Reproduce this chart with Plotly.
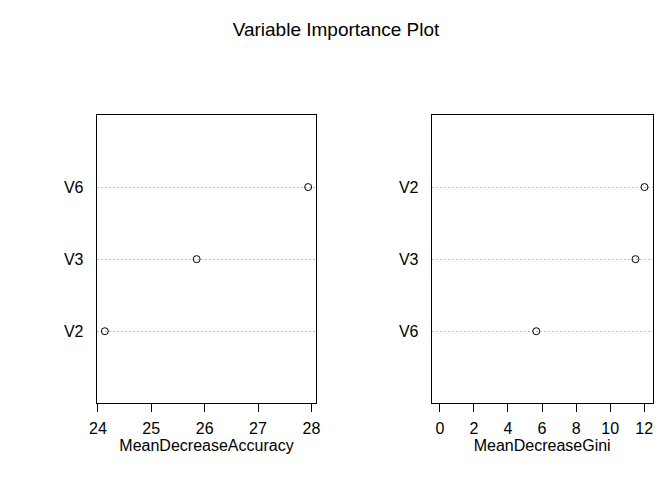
import plotly.graph_objects as go

# Data
acc_vars = ["V2", "V3", "V6"]
acc_vals = [24.13, 25.85, 27.94]
gini_vars = ["V6", "V3", "V2"]
gini_vals = [5.66, 11.49, 12.02]

acc_ticks = [24, 25, 26, 27, 28]
gini_ticks = [0, 2, 4, 6, 8, 10, 12]

title_text = "Variable Importance Plot"
acc_label = "MeanDecreaseAccuracy"
gini_label = "MeanDecreaseGini"

FONT = "Liberation Sans, Arial, sans-serif"


def r_range(lo, hi):
    pad = (hi - lo) * 0.04
    return [lo - pad, hi + pad]


fig = go.Figure()

fig.add_trace(go.Scatter(
    x=acc_vals, y=acc_vars, mode="markers",
    marker=dict(symbol="circle-open", size=7, color="black", line=dict(width=1, color="black")),
    xaxis="x", yaxis="y", showlegend=False, cliponaxis=False,
))
fig.add_trace(go.Scatter(
    x=gini_vals, y=gini_vars, mode="markers",
    marker=dict(symbol="circle-open", size=7, color="black", line=dict(width=1, color="black")),
    xaxis="x2", yaxis="y2", showlegend=False, cliponaxis=False,
))

xcommon = dict(
    showline=True, linecolor="black", linewidth=1, mirror=True,
    ticks="outside", ticklen=8, tickwidth=1, tickcolor="black",
    showgrid=False, zeroline=False,
    tickfont=dict(family=FONT, size=16, color="black"),
    title_font=dict(family=FONT, size=16, color="black"),
    title_standoff=4, ticklabelstandoff=2,
)
ycommon = dict(
    showline=True, linecolor="black", linewidth=1, mirror=True,
    ticks="", showgrid=True, gridcolor="#BEBEBE", griddash="2px,2px", gridwidth=1,
    zeroline=False, type="category", range=[-1, 3],
    tickfont=dict(family=FONT, size=16, color="black"),
    ticklabelstandoff=9,
)

fig.update_layout(
    width=672, height=480,
    margin=dict(l=0, r=0, t=0, b=0, autoexpand=False),
    paper_bgcolor="white", plot_bgcolor="white",
    font=dict(family=FONT, size=16, color="black"),
    xaxis=dict(domain=[96.7 / 672, 316.3 / 672], anchor="y",
               range=r_range(min(acc_vals), max(acc_vals)),
               tickvals=acc_ticks, title_text=acc_label, **xcommon),
    yaxis=dict(domain=[(480 - 403.3) / 480, (480 - 115) / 480], anchor="x", **ycommon),
    xaxis2=dict(domain=[431.7 / 672, 652.7 / 672], anchor="y2",
                range=r_range(min(0, min(gini_vals)), max(gini_vals)),
                tickvals=gini_ticks, title_text=gini_label, **xcommon),
    yaxis2=dict(domain=[(480 - 403.3) / 480, (480 - 115) / 480], anchor="x2", **ycommon),
    title=dict(text=title_text, x=0.5, xanchor="center", y=1 - 29 / 480, yanchor="middle",
               font=dict(family=FONT, size=19, color="black")),
)

fig.write_html("out.html", config={"displayModeBar": False},
               post_script="document.body.style.margin='0';")
